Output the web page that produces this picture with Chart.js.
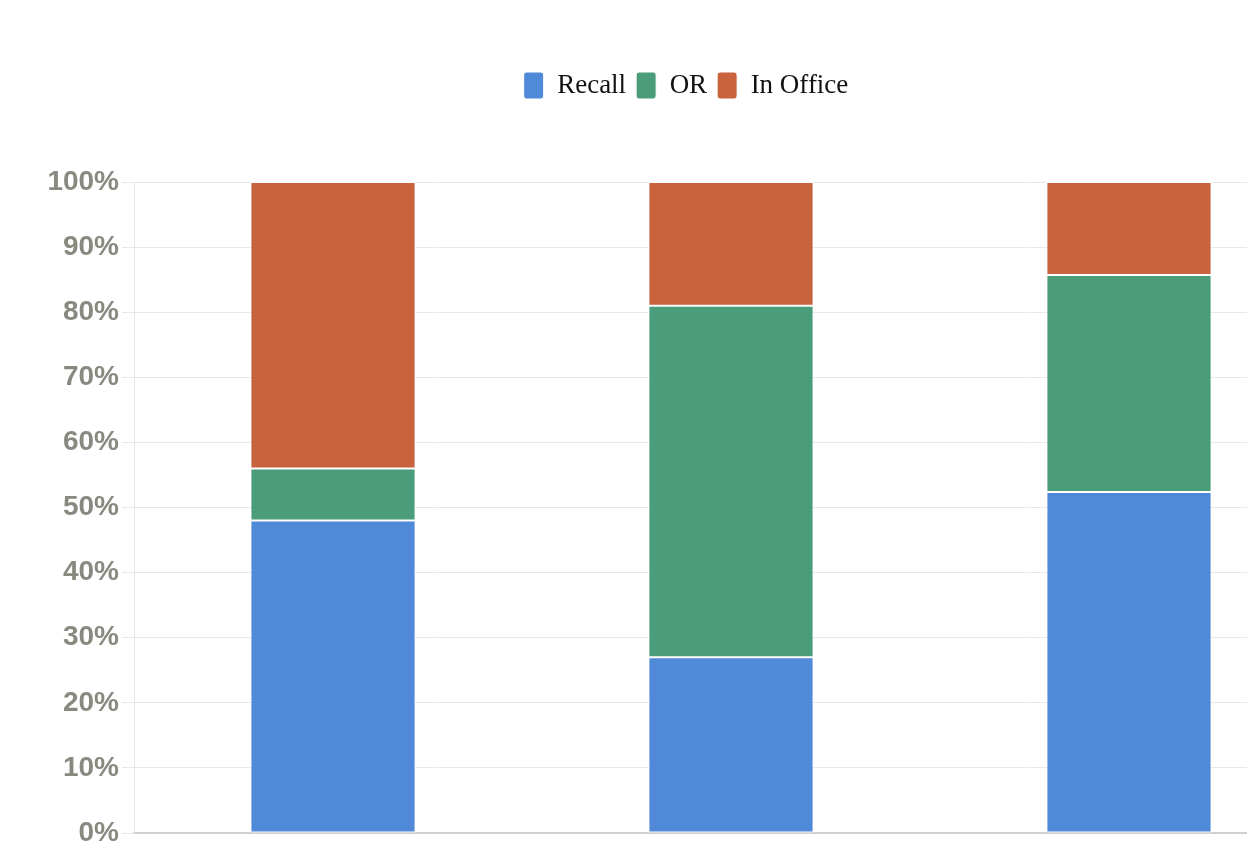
<!DOCTYPE html>
<html>
<head>
<meta charset="utf-8">
<script src="https://cdn.jsdelivr.net/npm/chart.js@4"></script>
<style>
  html, body { margin: 0; padding: 0; background: #ffffff; overflow: hidden; }
  #wrap { position: absolute; left: 0; top: 0; width: 1372px; height: 854px; }
</style>
</head>
<body>
<div id="wrap"><canvas id="c" width="1372" height="854"></canvas></div>
<script>
// Data
const categories = ['Group 1', 'Group 2', 'Group 3'];
const recallValues = [48, 27, 52.4];
const orValues = [8, 54, 33.3];
const inOfficeValues = [44, 19, 14.3];
const seriesNames = ['Recall', 'OR', 'In Office'];
const yTickValues = [0, 10, 20, 30, 40, 50, 60, 70, 80, 90, 100];

const colors = ['#4f89d8', '#4b9c7a', '#c9633d'];

const legendSpacer = {
  id: 'legendSpacer',
  beforeInit(chart) {
    const origFit = chart.legend.fit;
    chart.legend.fit = function () {
      origFit.bind(chart.legend)();
      this.height += 73;
    };
  },
  afterLayout(chart) {
    chart.legend.left += 44;
  }
};

new Chart(document.getElementById('c'), {
  type: 'bar',
  data: {
    labels: categories,
    datasets: [
      { label: seriesNames[0], data: recallValues, backgroundColor: colors[0] },
      { label: seriesNames[1], data: orValues, backgroundColor: colors[1] },
      { label: seriesNames[2], data: inOfficeValues, backgroundColor: colors[2] }
    ].map(d => Object.assign(d, {
      borderColor: '#ffffff',
      borderWidth: 1,
      borderSkipped: false,
      categoryPercentage: 1,
      barPercentage: 0.415
    }))
  },
  options: {
    responsive: false,
    maintainAspectRatio: false,
    animation: false,
    layout: { padding: { top: 62, right: 44, bottom: 13, left: 0 } },
    plugins: {
      legend: {
        position: 'top',
        labels: {
          boxWidth: 20,
          boxHeight: 27,
          useBorderRadius: true,
          borderRadius: 3,
          padding: 10,
          color: '#111111',
          font: { family: "'Liberation Serif', 'Times New Roman', serif", size: 27 }
        }
      },
      tooltip: { enabled: false }
    },
    scales: {
      x: {
        stacked: true,
        grid: { display: false },
        border: { display: true, color: '#d0d0d0', width: 2 },
        ticks: { display: false }
      },
      y: {
        stacked: true,
        min: 0,
        max: 100,
        afterFit(scale) { scale.width = 134; },
        afterBuildTicks(scale) { scale.ticks = yTickValues.map(v => ({ value: v })); },
        grid: { color: '#e8e8e8', lineWidth: 1, tickLength: 12 },
        border: { display: true, color: '#e6e6e6', width: 1 },
        ticks: {
          padding: 3,
          color: '#8a8980',
          font: { family: "'Liberation Sans', Arial, sans-serif", size: 28, weight: 'bold' },
          callback: v => v + '%'
        }
      }
    }
  },
  plugins: [legendSpacer]
});
</script>
</body>
</html>
